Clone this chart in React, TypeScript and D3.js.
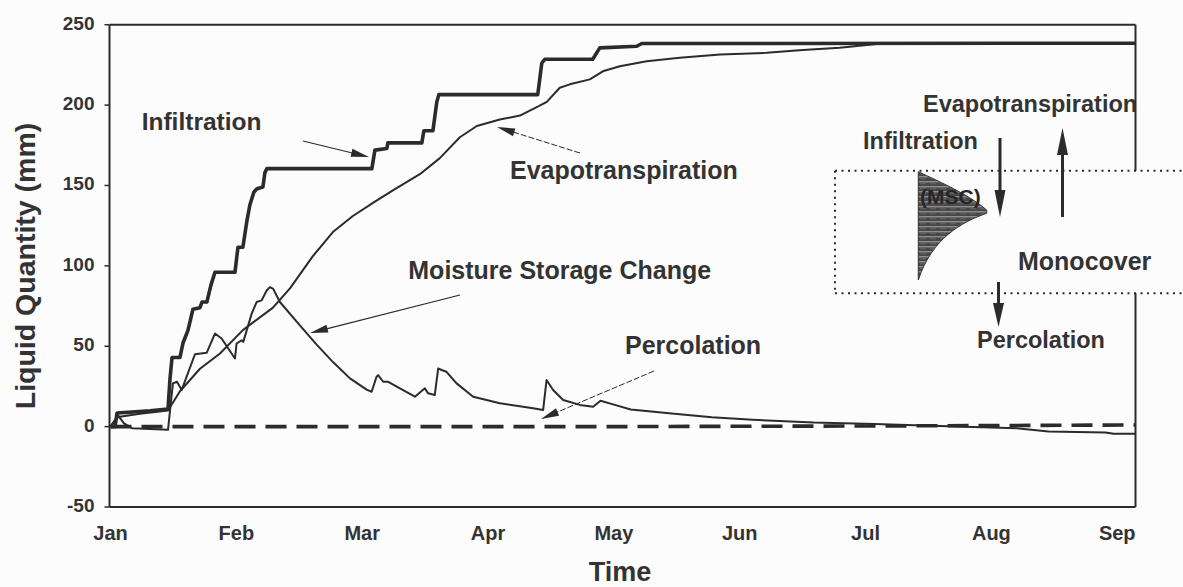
import React from "react";
import * as d3 from "d3";

// time in months since Jan 1 (Jan = 0 ... Sep = 8)
const monthLabels = ["Jan", "Feb", "Mar", "Apr", "May", "Jun", "Jul", "Aug", "Sep"];
const yTicks = [250, 200, 150, 100, 50, 0, -50];

const infilT = [0, 0.036, 0.052, 0.314, 0.457, 0.473, 0.489, 0.552, 0.576, 0.616, 0.655, 0.711, 0.727, 0.766, 0.798, 0.83, 0.989, 1.013, 1.052, 1.084, 1.108, 1.14, 1.164, 1.211, 1.227, 1.243, 2.077, 2.101, 2.196, 2.204, 2.474, 2.49, 2.562, 2.593, 2.609, 3.395, 3.427, 3.451, 3.832, 3.888, 4.182, 4.222, 8.145];
const infilV = [0, 0, 8.5, 9.8, 11, 30, 43, 43, 52, 60, 73, 74, 77.5, 77.5, 88, 96, 96, 111.6, 111.6, 128, 138, 146, 148, 149, 158, 160.5, 160.5, 172, 173, 176.5, 176.5, 184, 184, 202, 206.5, 206.5, 226, 228.5, 228.5, 235.6, 236.6, 238.3, 238.5];

const etT = [0, 0.06, 0.234, 0.457, 0.552, 0.711, 0.87, 1.052, 1.291, 1.426, 1.608, 1.767, 1.926, 2.101, 2.244, 2.458, 2.617, 2.776, 2.911, 3.094, 3.253, 3.395, 3.467, 3.57, 3.65, 3.809, 3.912, 4.047, 4.261, 4.523, 4.845, 5.214, 5.5, 5.794, 6.088, 8.145];
const etV = [0, 6, 8, 10, 22, 36, 45.5, 60, 74, 86, 106, 121, 131, 140, 147, 157, 167, 180, 187, 191, 193.5, 199, 202, 210.8, 212.9, 216, 221, 224.2, 227.3, 229.4, 231.5, 232.5, 234.2, 235.6, 238, 238.5];

const mscT = [0, 0.06, 0.107, 0.171, 0.314, 0.457, 0.473, 0.496, 0.528, 0.566, 0.671, 0.764, 0.83, 0.883, 0.989, 1.002, 1.042, 1.055, 1.122, 1.161, 1.201, 1.241, 1.267, 1.293, 1.346, 1.505, 1.638, 1.77, 1.903, 2.035, 2.075, 2.114, 2.127, 2.167, 2.207, 2.3, 2.419, 2.498, 2.524, 2.577, 2.604, 2.631, 2.67, 2.75, 2.882, 3.094, 3.358, 3.438, 3.465, 3.517, 3.597, 3.729, 3.835, 3.894, 4.007, 4.134, 4.46, 4.778, 5.103, 5.587, 6.072, 6.716, 7.2, 7.454, 7.907, 7.971, 8.145];
const mscV = [0, 7, 2, -1, -1.5, -2, 10, 26.9, 27.9, 22.8, 45, 45.9, 57.9, 54.8, 42.4, 51.7, 53.7, 52.7, 70.3, 77.5, 78.5, 84.7, 86.8, 85.7, 77.5, 63, 51, 40, 30, 23, 21.7, 31, 32, 27.9, 27.9, 23.8, 18.6, 23.8, 20.7, 19.7, 36.2, 35.2, 34.1, 26.9, 18.6, 14.5, 11.4, 10.4, 29, 22.8, 16.6, 13.5, 12.4, 16.1, 13.5, 10.7, 8.2, 5.8, 4.2, 2.5, 1.7, 0, -1, -3.1, -3.7, -4.5, -4.5];

const percT = [0, 4, 6, 8.145];
const percV = [0, 0, 0.4, 1];

const W = 1183;
const H = 587;
const INK = "#2b2b2b";
const TXT = "#333";
const FONT = "'Liberation Sans', Arial, sans-serif";

const x = d3.scaleLinear().domain([0, 8.145]).range([110.5, 1135.5]);
const y = d3.scaleLinear().domain([-50, 250]).range([507, 24.7]);

const line = d3
  .line<[number, number]>()
  .x((d) => x(d[0]))
  .y((d) => y(d[1]));

const zip = (t: number[], v: number[]) => t.map((d, i) => [d, v[i]] as [number, number]);

function head(x1: number, y1: number, x2: number, y2: number, len: number, w: number) {
  const a = Math.atan2(y2 - y1, x2 - x1);
  const bx = x2 - len * Math.cos(a);
  const by = y2 - len * Math.sin(a);
  const px = (w / 2) * Math.sin(a);
  const py = (w / 2) * Math.cos(a);
  return `${x2},${y2} ${bx + px},${by - py} ${bx - px},${by + py}`;
}

const Arrow = ({ x1, y1, x2, y2, len = 18, w = 8, sw = 1.2, dash }: any) => {
  const a = Math.atan2(y2 - y1, x2 - x1);
  return (
    <g>
      <line
        x1={x1}
        y1={y1}
        x2={x2 - (len - 2) * Math.cos(a)}
        y2={y2 - (len - 2) * Math.sin(a)}
        stroke={INK}
        strokeWidth={sw}
        strokeDasharray={dash}
      />
      <polygon points={head(x1, y1, x2, y2, len, w)} fill={INK} />
    </g>
  );
};

const Label = ({ x, y, size = 25, children }: any) => (
  <text x={x} y={y} fontSize={size} fontWeight="bold" fill={TXT} fontFamily={FONT}>
    {children}
  </text>
);

export default function App() {
  const right = x.range()[1];
  const top = y(250);
  const bottom = y(-50);
  const boxTop = 170.7;
  const boxBottom = 293.3;

  return (
    <svg
      width={W}
      height={H}
      style={{ position: "absolute", left: 0, top: 0, background: "#fcfcfc" }}
    >
      <defs>
        <pattern id="streak" width="10" height="5" patternUnits="userSpaceOnUse">
          <rect width="10" height="5" fill="#474747" />
          <rect y="1" width="10" height="1.4" fill="#8f8f8f" />
          <rect y="3.4" width="6" height="0.8" fill="#6d6d6d" />
        </pattern>
      </defs>

      {/* frame */}
      <g stroke={INK} strokeWidth={2} fill="none">
        <line x1={x(0) - 1} y1={top} x2={right} y2={top} />
        <line x1={x(0) - 1} y1={bottom} x2={right} y2={bottom} />
        <line x1={x(0) - 1} y1={top} x2={x(0) - 1} y2={bottom} />
        <line x1={right} y1={top} x2={right} y2={boxTop} />
        <line x1={right} y1={boxBottom} x2={right} y2={bottom} />
      </g>

      {/* y axis */}
      {yTicks.map((t) => (
        <g key={t}>
          <line x1={x(0) - 6} x2={x(0) - 1} y1={y(t)} y2={y(t)} stroke={INK} strokeWidth={1.5} />
          <text
            x={x(0) - 16}
            y={y(t) + 5}
            textAnchor="end"
            fontSize={19}
            fontWeight="bold"
            fill={TXT}
            fontFamily={FONT}
          >
            {t}
          </text>
        </g>
      ))}
      <text
        transform={`translate(35,266) rotate(-90)`}
        textAnchor="middle"
        fontSize={28.5}
        fontWeight="bold"
        fill={TXT}
        fontFamily={FONT}
      >
        Liquid Quantity (mm)
      </text>

      {/* x axis */}
      {monthLabels.map((m, i) => (
        <text
          key={m}
          x={x(i)}
          y={540}
          textAnchor="middle"
          fontSize={20}
          fontWeight="bold"
          fill={TXT}
          fontFamily={FONT}
        >
          {m}
        </text>
      ))}
      <text x={620} y={581} textAnchor="middle" fontSize={27} fontWeight="bold" fill={TXT} fontFamily={FONT}>
        Time
      </text>

      {/* series */}
      <path d={line(zip(percT, percV)) || ""} fill="none" stroke={INK} strokeWidth={3.6} strokeDasharray="21,10" />
      <path d={line(zip(mscT, mscV)) || ""} fill="none" stroke={INK} strokeWidth={2} strokeLinejoin="round" />
      <path d={line(zip(etT, etV)) || ""} fill="none" stroke={INK} strokeWidth={2} strokeLinejoin="round" />
      <path d={line(zip(infilT, infilV)) || ""} fill="none" stroke={INK} strokeWidth={3.6} strokeLinejoin="round" />

      {/* annotations */}
      <Label x={141.7} y={130} size={24.5}>Infiltration</Label>
      <Arrow x1={303} y1={141} x2={369} y2={157} />
      <Label x={510} y={179.3}>Evapotranspiration</Label>
      <Arrow x1={580} y1={153} x2={497} y2={127} sw={1} dash="6,2" />
      <Label x={408.3} y={279.3}>Moisture Storage Change</Label>
      <Arrow x1={460} y1={295} x2={310} y2={333} />
      <Label x={625} y={354}>Percolation</Label>
      <Arrow x1={654} y1={371} x2={541} y2={419} sw={1} dash="6,2" />

      {/* monocover inset */}
      <path
        d={`M${835},${boxTop}H${W}M${835},${boxBottom}H${W}M${835},${boxTop}V${boxBottom}`}
        fill="none"
        stroke={INK}
        strokeWidth={2}
        strokeDasharray="2,4.5"
      />
      <path
        d="M918.3,171.7 C940,182 968,194 986.7,210 L986.7,213.3 C962,222 932,238 918.3,280 Z"
        fill="url(#streak)"
        stroke="#333"
        strokeWidth={1}
      />
      <text x={920} y={204} fontSize={21} fontWeight="bold" fill="#262626" fontFamily={FONT}>
        (MSC)
      </text>
      <Label x={923} y={111.7} size={23.5}>Evapotranspiration</Label>
      <Label x={863} y={149.3} size={23.5}>Infiltration</Label>
      <Arrow x1={1000} y1={138} x2={1000} y2={217} len={27} w={11} sw={3} />
      <Arrow x1={1062.5} y1={217} x2={1062.5} y2={128} len={27} w={11} sw={3} />
      <Label x={1018} y={270}>Monocover</Label>
      <Arrow x1={998.5} y1={282} x2={998.5} y2={327} len={24} w={11} sw={3} />
      <Label x={977} y={348.3} size={23.5}>Percolation</Label>
    </svg>
  );
}
